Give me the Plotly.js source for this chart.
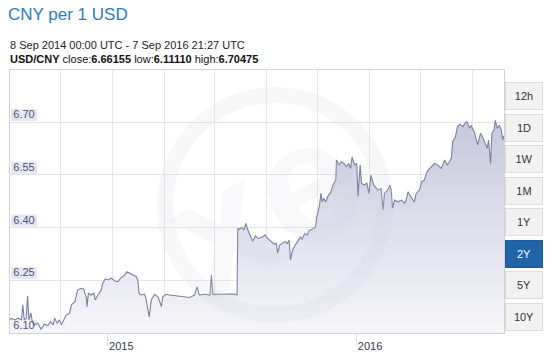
<!DOCTYPE html>
<html>
<head>
<meta charset="utf-8">
<script src="https://cdn.plot.ly/plotly-3.0.1.min.js"></script>
<style>
  html, body { margin: 0; padding: 0; background: #ffffff; }
  #chart { width: 550px; height: 354px; }
</style>
</head>
<body>
<div id="chart"></div>
<script>
// ---- data ----
const dates = [
  "2014-09-08","2014-09-10","2014-09-15","2014-09-20","2014-09-25","2014-09-27","2014-09-29","2014-10-02","2014-10-04","2014-10-06",
  "2014-10-09","2014-10-11","2014-10-14","2014-10-19","2014-10-24","2014-10-29","2014-11-03","2014-11-07","2014-11-11","2014-11-13",
  "2014-11-17","2014-11-20","2014-11-23","2014-11-27","2014-11-30","2014-12-05","2014-12-08","2014-12-13","2014-12-17","2014-12-22",
  "2014-12-26","2014-12-30","2014-12-31","2015-01-02","2015-01-06","2015-01-10","2015-01-12","2015-01-16","2015-01-21","2015-01-23",
  "2015-01-27","2015-01-31","2015-02-05","2015-02-10","2015-02-15","2015-02-19","2015-02-24","2015-02-28","2015-03-04","2015-03-09",
  "2015-03-14","2015-03-16","2015-03-18","2015-03-21","2015-03-26","2015-03-28","2015-04-02","2015-04-05","2015-04-10","2015-04-15",
  "2015-04-20","2015-04-22","2015-04-27","2015-05-02","2015-05-12","2015-05-22","2015-06-01","2015-06-08","2015-06-12","2015-06-15",
  "2015-06-23","2015-07-01","2015-07-03","2015-07-05","2015-07-15","2015-07-27","2015-08-06","2015-08-10","2015-08-11","2015-08-13",
  "2015-08-17","2015-08-20","2015-08-23","2015-08-25","2015-08-29","2015-09-02","2015-09-06","2015-09-10","2015-09-16","2015-09-20",
  "2015-09-24","2015-09-29","2015-10-04","2015-10-07","2015-10-09","2015-10-12","2015-10-16","2015-10-20","2015-10-23","2015-10-26",
  "2015-10-28","2015-10-31","2015-11-04","2015-11-07","2015-11-12","2015-11-14","2015-11-18","2015-11-22","2015-11-24","2015-11-29",
  "2015-12-04","2015-12-06","2015-12-08","2015-12-10","2015-12-12","2015-12-14","2015-12-16","2015-12-19","2015-12-23","2015-12-26",
  "2015-12-30","2016-01-03","2016-01-04","2016-01-08","2016-01-11","2016-01-15","2016-01-19","2016-01-22","2016-01-25","2016-01-27",
  "2016-01-31","2016-02-03","2016-02-05","2016-02-08","2016-02-10","2016-02-14","2016-02-18","2016-02-21","2016-02-24","2016-02-28",
  "2016-03-05","2016-03-10","2016-03-13","2016-03-15","2016-03-20","2016-03-23","2016-03-25","2016-03-27","2016-03-30","2016-04-04",
  "2016-04-09","2016-04-14","2016-04-16","2016-04-19","2016-04-23","2016-04-28","2016-05-01","2016-05-06","2016-05-09","2016-05-13",
  "2016-05-17","2016-05-23","2016-05-28","2016-06-02","2016-06-07","2016-06-12","2016-06-16","2016-06-19","2016-06-22","2016-06-24",
  "2016-06-28","2016-07-01","2016-07-05","2016-07-09","2016-07-12","2016-07-15","2016-07-19","2016-07-21","2016-07-26","2016-07-29",
  "2016-07-31","2016-08-04","2016-08-07","2016-08-11","2016-08-14","2016-08-16","2016-08-19","2016-08-21","2016-08-24","2016-08-26",
  "2016-08-29","2016-09-01","2016-09-04","2016-09-06","2016-09-07 21:27"
];
const rates = [
  6.137,6.142,6.137,6.142,6.137,6.180,6.137,6.142,6.206,6.137,
  6.157,6.132,6.123,6.128,6.1111,6.125,6.121,6.132,6.123,6.142,
  6.128,6.137,6.123,6.137,6.151,6.156,6.180,6.189,6.222,6.227,
  6.225,6.199,6.175,6.213,6.208,6.213,6.194,6.208,6.222,6.241,
  6.254,6.251,6.256,6.248,6.246,6.257,6.263,6.274,6.270,6.265,
  6.260,6.251,6.213,6.208,6.210,6.199,6.146,6.194,6.210,6.203,
  6.175,6.203,6.210,6.208,6.206,6.203,6.201,6.208,6.232,6.208,
  6.210,6.208,6.265,6.210,6.210,6.211,6.211,6.208,6.398,6.395,
  6.400,6.393,6.412,6.398,6.379,6.360,6.376,6.369,6.372,6.379,
  6.369,6.360,6.353,6.355,6.327,6.350,6.355,6.360,6.355,6.364,
  6.308,6.336,6.350,6.360,6.374,6.366,6.383,6.379,6.391,6.395,
  6.402,6.431,6.450,6.464,6.497,6.473,6.483,6.473,6.492,6.497,
  6.521,6.535,6.592,6.578,6.587,6.582,6.573,6.582,6.568,6.600,
  6.578,6.582,6.488,6.578,6.526,6.521,6.526,6.497,6.549,6.521,
  6.507,6.511,6.450,6.497,6.507,6.521,6.507,6.455,6.478,6.473,
  6.478,6.469,6.478,6.502,6.488,6.473,6.497,6.507,6.530,6.535,
  6.559,6.573,6.582,6.578,6.568,6.592,6.578,6.587,6.597,6.644,
  6.658,6.687,6.694,6.687,6.696,6.701,6.682,6.691,6.672,6.649,
  6.635,6.668,6.658,6.639,6.625,6.649,6.582,6.668,6.677,6.70475,
  6.682,6.691,6.677,6.649,6.66155
];
const yTickVals = [6.10, 6.25, 6.40, 6.55, 6.70];
const yTickText = ["6.10", "6.25", "6.40", "6.55", "6.70"];
const xTickVals = ["2015-01-30", "2016-02-02"];
const xTickText = ["2015", "2016"];
const xGridDates = ["2014-11-22","2015-02-07","2015-04-24","2015-07-08","2015-09-23",
                    "2015-12-07","2016-02-22","2016-05-07","2016-07-23"];
const rangeButtons = ["12h", "1D", "1W", "1M", "1Y", "2Y", "5Y", "10Y"];
const activeButton = "2Y";

const W = 550, H = 354;
const M = { l: 10, r: 46, t: 70, b: 21 };
const PW = W - M.l - M.r, PH = H - M.t - M.b;
// page pixel -> paper fraction (paper = plot area)
const px = (x) => (x - M.l) / PW;
const py = (y) => (H - M.b - y) / PH;

const FONT = "Liberation Sans, Arial, sans-serif";
const xRange = ["2014-09-08", "2016-09-07 21:27"];
const yRange = [6.10, 6.848];
const unitsPerPx = (yRange[1] - yRange[0]) / PH;

const trace = {
  type: "scatter",
  mode: "lines",
  x: dates,
  y: rates,
  line: { color: "#7a80a2", width: 1.1 },
  fill: "tozeroy",
  fillgradient: {
    type: "vertical",
    start: 6.10,
    stop: 6.70,
    colorscale: [[0, "#f6f6fa"], [1, "#c6c9dc"]]
  },
  hoverinfo: "x+y"
};
// invisible helper so the grid-only overlay axis is drawn
const gridHelper = {
  type: "scatter", mode: "markers", x: [dates[0]], y: [rates[0]],
  xaxis: "x2", yaxis: "y", marker: { opacity: 0 }, hoverinfo: "skip"
};

const annotations = [
  {
    xref: "paper", yref: "paper", x: px(8), y: py(45), xanchor: "left", yanchor: "middle",
    text: "8 Sep 2014 00:00 UTC - 7 Sep 2016 21:27 UTC", showarrow: false,
    font: { family: FONT, size: 11, color: "#222222" }
  },
  {
    xref: "paper", yref: "paper", x: px(8), y: py(59), xanchor: "left", yanchor: "middle",
    text: "<b>USD/CNY</b> close:<b>6.66155</b> low:<b>6.11110</b> high:<b>6.70475</b>", showarrow: false,
    font: { family: FONT, size: 11, color: "#111111" }
  },
  // faint watermark
  {
    xref: "paper", yref: "paper", x: px(262), y: py(205), xanchor: "center", yanchor: "middle",
    text: "<b>xe</b>", showarrow: false, textangle: -28,
    font: { family: FONT, size: 170, color: "rgba(205,208,222,0.14)" }
  }
];
rangeButtons.forEach((b, i) => {
  const active = b === activeButton;
  annotations.push({
    xref: "paper", yref: "paper", x: px(524), y: py(96 + 31.5 * i),
    xanchor: "center", yanchor: "middle", showarrow: false,
    text: b, width: 36, height: 26, borderpad: 0, borderwidth: 1,
    bgcolor: active ? "#2064a8" : "#f2f2f2",
    bordercolor: active ? "#1d5c9a" : "#dcdcdc",
    font: { family: FONT, size: 11, color: active ? "#ffffff" : "#333333" }
  });
});

// lavender backdrop boxes behind the y tick labels
const shapes = yTickVals.map((v) => ({
  type: "rect", xref: "paper", yref: "y", layer: "below",
  x0: px(11), x1: px(37), y0: v + 1 * unitsPerPx, y1: v + 13 * unitsPerPx,
  fillcolor: "#e5e7f3", line: { width: 0 }
}));
shapes.push({
  type: "circle", xref: "paper", yref: "paper", layer: "above",
  x0: px(165), x1: px(385), y0: py(95), y1: py(315),
  line: { color: "rgba(205,208,222,0.16)", width: 16 }
});

const layout = {
  width: W, height: H,
  margin: { l: M.l, r: M.r, t: M.t, b: M.b, pad: 0 },
  paper_bgcolor: "#ffffff",
  plot_bgcolor: "#ffffff",
  showlegend: false,
  title: {
    text: "CNY per 1 USD",
    xref: "container", yref: "container",
    x: 8 / W, xanchor: "left", y: 1 - 14 / H, yanchor: "middle",
    font: { family: FONT, size: 17, color: "#2a7abf" }
  },
  xaxis: {
    type: "date",
    range: xRange,
    tickmode: "array",
    tickvals: xTickVals,
    ticktext: xTickText,
    ticks: "outside", ticklen: 12, tickcolor: "#e2e2e2", tickwidth: 1,
    ticklabelshift: 14, ticklabelstandoff: -9,
    tickfont: { family: FONT, size: 11, color: "#333a55" },
    showgrid: false,
    showline: true, linecolor: "#d2d2d2", linewidth: 1, mirror: true,
    zeroline: false, fixedrange: true
  },
  xaxis2: {
    type: "date",
    overlaying: "x",
    anchor: "y",
    range: xRange,
    tickmode: "array",
    tickvals: xGridDates,
    showticklabels: false,
    ticks: "",
    showgrid: true, gridcolor: "#e6e6e6", gridwidth: 1,
    showline: false, zeroline: false, fixedrange: true
  },
  yaxis: {
    range: yRange,
    tickmode: "array",
    tickvals: yTickVals,
    ticktext: yTickText,
    ticklabelposition: "inside top",
    ticklabelstandoff: 2,
    ticks: "",
    tickfont: { family: FONT, size: 11, color: "#4a5275" },
    showgrid: true, gridcolor: "#e4e4e4", gridwidth: 1,
    showline: true, linecolor: "#d2d2d2", linewidth: 1, mirror: true,
    zeroline: false, fixedrange: true
  },
  shapes: shapes,
  annotations: annotations
};

Plotly.newPlot("chart", [gridHelper, trace], layout, { displayModeBar: false, staticPlot: true });
</script>
</body>
</html>
